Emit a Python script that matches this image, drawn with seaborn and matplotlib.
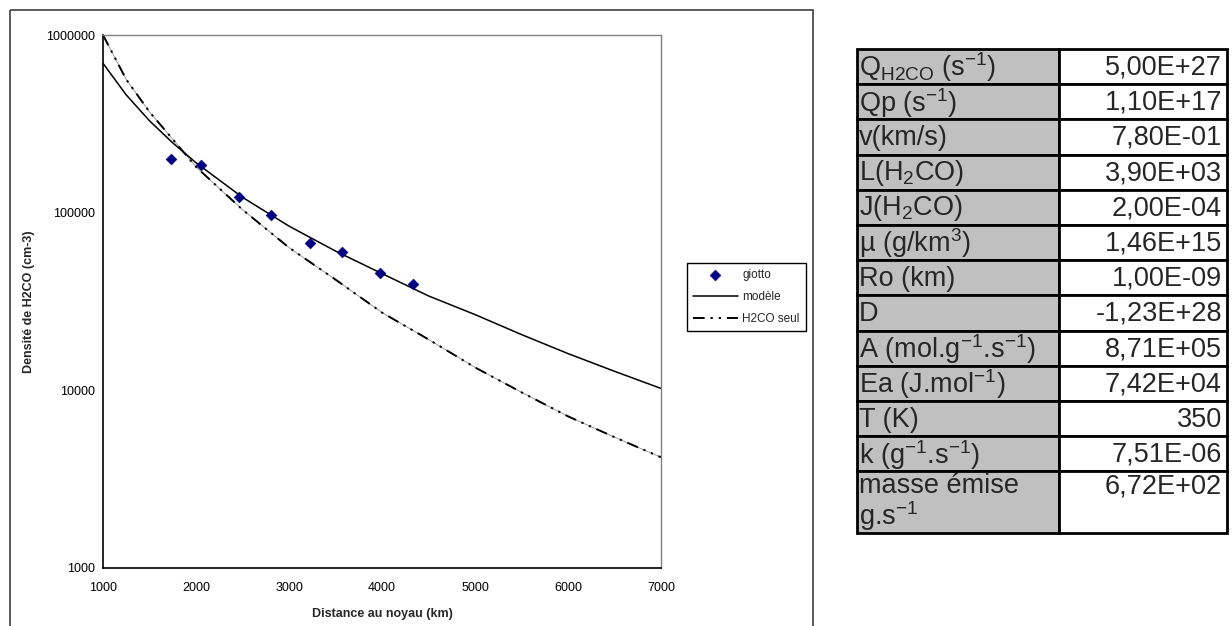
import numpy as np
import matplotlib
matplotlib.use("Agg")
import matplotlib.pyplot as plt
import matplotlib.ticker as mticker
from matplotlib.patches import Rectangle
import seaborn as sns

sns.set_style("white")
plt.rcParams["font.family"] = ["Liberation Sans", "DejaVu Sans"]
plt.rcParams["mathtext.fontset"] = "custom"
plt.rcParams["mathtext.rm"] = "Liberation Sans"
plt.rcParams["mathtext.it"] = "Liberation Sans"
plt.rcParams["mathtext.default"] = "regular"

# --- data ---
giotto_x = [1731, 2054, 2462, 2806, 3226, 3570, 3978, 4333]
giotto_y = [201000, 186000, 123000, 97500, 67800, 60400, 46000, 39900]

curve_x = [1000, 1250, 1500, 1750, 2000, 2500, 3000, 3500, 4000, 4500, 5000, 5500, 6000, 6500, 7000]
modele_y = [693000, 460000, 329000, 247000, 191000, 122000, 84000, 60800, 45400,
            34000, 26700, 20600, 16100, 12800, 10250]
h2co_seul_y = [1000000, 562000, 369000, 259000, 181000, 104000, 63600, 42000, 27400,
               19350, 13460, 9750, 7140, 5450, 4200]

x_ticks = [1000, 2000, 3000, 4000, 5000, 6000, 7000]
y_ticks = [1000, 10000, 100000, 1000000]

param_labels = ["Q$_{H2CO}$ (s$^{-1}$)", "Qp (s$^{-1}$)", "v(km/s)", "L(H$_2$CO)",
                "J(H$_2$CO)", "µ (g/km$^3$)", "Ro (km)", "D",
                "A (mol.g$^{-1}$.s$^{-1}$)", "Ea (J.mol$^{-1}$)", "T (K)",
                "k (g$^{-1}$.s$^{-1}$)", "masse émise\ng.s$^{-1}$"]
param_values = ["5,00E+27", "1,10E+17", "7,80E-01", "3,90E+03", "2,00E-04", "1,46E+15",
                "1,00E-09", "-1,23E+28", "8,71E+05", "7,42E+04", "350", "7,51E-06",
                "6,72E+02"]

W, H = 1232, 626
fig = plt.figure(figsize=(W / 100, H / 100), dpi=100)

# overlay axes in pixel coordinates for the chart frame and the table
bg = fig.add_axes([0, 0, 1, 1])
bg.set_xlim(0, W)
bg.set_ylim(H, 0)
bg.axis("off")
bg.add_patch(Rectangle((10, 10), 803, 630, fill=False, edgecolor="#404040", lw=1.2))

# --- chart ---
ax = fig.add_axes([103 / W, 1 - 568 / H, (661 - 103) / W, (568 - 35) / H])
ax.set_facecolor("white")
sns.lineplot(x=curve_x, y=h2co_seul_y, color="#909090", lw=0.6, ax=ax)
sns.lineplot(x=curve_x, y=modele_y, color="black", lw=1.1, label="modèle", ax=ax)
sns.lineplot(x=curve_x, y=h2co_seul_y, color="black", lw=1.4,
             linestyle=(0, (6, 3, 1.2, 3, 1.2, 3)), label="H2CO seul", ax=ax)
sns.scatterplot(x=giotto_x, y=giotto_y, marker="D", color="#000080",
                edgecolor="#000080", s=30, label="giotto", ax=ax, zorder=5)

ax.set_yscale("log")
ax.set_xlim(1000, 7000)
ax.set_ylim(1000, 1000000)
ax.xaxis.set_major_locator(mticker.FixedLocator(x_ticks))
ax.yaxis.set_major_locator(mticker.FixedLocator(y_ticks))
ax.yaxis.set_minor_locator(mticker.NullLocator())
ax.yaxis.set_major_formatter(mticker.FuncFormatter(lambda v, p: f"{int(v)}"))
ax.tick_params(axis="both", direction="inout", length=6, width=1, labelsize=9,
               colors="black", pad=3)
ax.tick_params(axis="x", pad=7)
for s in ["left", "bottom"]:
    ax.spines[s].set_color("black")
    ax.spines[s].set_linewidth(1.2)
for s in ["top", "right"]:
    ax.spines[s].set_color("#808080")
    ax.spines[s].set_linewidth(1.0)
ax.set_xlabel("Distance au noyau (km)", fontsize=9, fontweight="bold", labelpad=10)
ax.set_ylabel("Densité de H2CO (cm-3)", fontsize=9, fontweight="bold", labelpad=8)

handles, labels = ax.get_legend_handles_labels()
order = [labels.index(n) for n in ["giotto", "modèle", "H2CO seul"]]
leg = ax.legend([handles[i] for i in order], [labels[i] for i in order],
                loc="upper left", bbox_to_anchor=(687 / W, 1 - 263 / H),
                bbox_transform=fig.transFigure, borderaxespad=0, fontsize=8.5,
                frameon=True, fancybox=False, edgecolor="black", framealpha=1,
                handlelength=3.8, handletextpad=0.4, labelspacing=0.85,
                borderpad=0.5)
leg.get_frame().set_linewidth(1.0)

# --- parameter table ---
x0, xm, x1 = 857, 1059, 1227
row_h = 35.2
tops = [49 + i * row_h for i in range(len(param_labels))]
bottoms = tops[1:] + [533]
for lab, val, t, b in zip(param_labels, param_values, tops, bottoms):
    bg.add_patch(Rectangle((x0, t), xm - x0, b - t, facecolor="#c0c0c0",
                           edgecolor="black", lw=2))
    bg.add_patch(Rectangle((xm, t), x1 - xm, b - t, facecolor="white",
                           edgecolor="black", lw=2))
    if "\n" in lab:
        bg.text(x0 + 2, t + 2, lab, fontsize=19.5, va="top", ha="left",
                linespacing=1.0)
        bg.text(x1 - 5, t + 2, val, fontsize=19.5, va="top", ha="right")
    else:
        bg.text(x0 + 2, (t + b) / 2 + 1, lab, fontsize=19.5, va="center", ha="left")
        bg.text(x1 - 5, (t + b) / 2 + 1, val, fontsize=19.5, va="center", ha="right")

fig.savefig("out.png", dpi=100)
